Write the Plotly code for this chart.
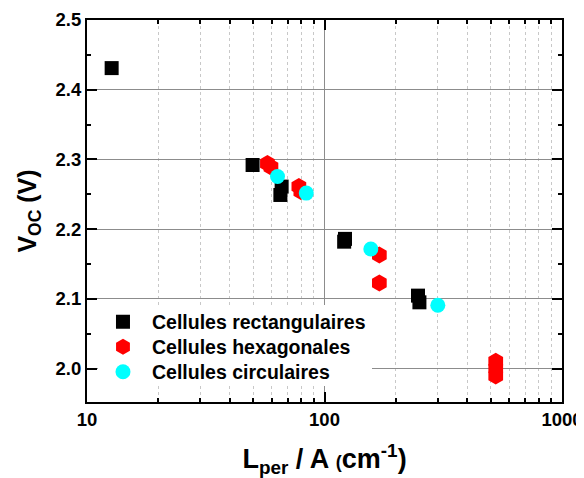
import plotly.graph_objects as go

# Data
rect_x = [12.7, 49.8, 65.2, 66.0, 121.0, 122.0, 247.6, 251.0]
rect_y = [2.431, 2.292, 2.249, 2.261, 2.182, 2.186, 2.1046, 2.095]

hex_x = [57.5, 59.5, 78.0, 79.5, 170.2, 170.2, 526.0, 526.0, 526.0]
hex_y = [2.294, 2.289, 2.261, 2.254, 2.163, 2.1228, 2.0103, 2.0, 1.9893]

circ_x = [63.4, 83.8, 156.7, 300.0]
circ_y = [2.2755, 2.2517, 2.1715, 2.0907]

series_names = ["Cellules rectangulaires", "Cellules hexagonales", "Cellules circulaires"]

x_tickvals = [10, 100, 1000]
x_ticktext = ["10", "100", "1000"]
x_minor = [20, 30, 40, 50, 60, 70, 80, 90, 200, 300, 400, 500, 600, 700, 800, 900]
y_tickvals = [2.0, 2.1, 2.2, 2.3, 2.4, 2.5]
y_ticktext = ["2.0", "2.1", "2.2", "2.3", "2.4", "2.5"]

FONT = "Liberation Sans, Arial, sans-serif"


def b(s):
    return "<b>" + s + "</b>"


fig = go.Figure()
fig.add_trace(go.Scatter(x=rect_x, y=rect_y, mode="markers", name=b(series_names[0]),
                         legend="legend",
                         marker=dict(symbol="square", size=14, color="black", line=dict(width=0))))
fig.add_trace(go.Scatter(x=hex_x, y=hex_y, mode="markers", name=b(series_names[1]),
                         legend="legend2",
                         marker=dict(symbol="hexagon", size=17, color="red", line=dict(width=0))))
fig.add_trace(go.Scatter(x=circ_x, y=circ_y, mode="markers", name=b(series_names[2]),
                         legend="legend3",
                         marker=dict(symbol="circle", size=15, color="cyan", line=dict(width=0))))

leg_common = dict(x=0.0147, xanchor="left", yanchor="middle", bgcolor="rgba(0,0,0,0)",
                  borderwidth=0, font=dict(family=FONT, size=19.5, color="black"), itemwidth=48)

# white background behind the legend block (hides grid lines there)
fig.add_shape(type="rect", xref="paper", yref="paper", x0=0.0232, x1=0.6, y0=0.0419, y1=0.254,
              fillcolor="white", line=dict(width=0), layer="above")

# the page body has an 8px margin, so the figure is drawn 8px smaller
fig.update_layout(
    width=576, height=470,
    margin=dict(l=79, r=22, t=12, b=76, autoexpand=False),
    paper_bgcolor="white", plot_bgcolor="white",
    font=dict(family=FONT, color="black", size=18),
    showlegend=True,
    legend=dict(y=0.2094, **leg_common),
    legend2=dict(y=0.144, **leg_common),
    legend3=dict(y=0.0785, **leg_common),
    xaxis=dict(
        type="log", range=[1, 3], automargin=False,
        tickvals=x_tickvals, ticktext=[b(t) for t in x_ticktext],
        ticks="inside", ticklen=10, tickwidth=1.5, tickcolor="black",
        showline=True, linecolor="black", linewidth=2, mirror="allticks",
        showgrid=True, gridcolor="#8c8c8c", gridwidth=1,
        zeroline=False,
        tickfont=dict(family=FONT, size=18.5),
        minor=dict(tickvals=x_minor, ticks="inside", ticklen=4, tickcolor="black",
                   showgrid=True, gridcolor="#c8c8c8", griddash="dot", gridwidth=1),
        title=dict(text="<b>L<sub>per</sub> / A <span style='font-size:18px'>(</span>cm<sup>-1</sup>)</b>",
                   font=dict(family=FONT, size=27), standoff=20),
    ),
    yaxis=dict(
        range=[1.952, 2.5], automargin=False,
        tickvals=y_tickvals, ticktext=[b(t) for t in y_ticktext],
        ticks="inside", ticklen=10, tickwidth=1.5, tickcolor="black",
        showline=True, linecolor="black", linewidth=2, mirror="allticks",
        showgrid=True, gridcolor="#8c8c8c", gridwidth=1,
        zeroline=False,
        tickfont=dict(family=FONT, size=18.5),
        minor=dict(dtick=0.05, tick0=1.95, ticks="inside", ticklen=4, tickcolor="black",
                   showgrid=False),
        title=dict(text="<b>V<sub>OC</sub> (V)</b>",
                   font=dict(family=FONT, size=25), standoff=12),
    ),
)

fig.write_html("out.html")
